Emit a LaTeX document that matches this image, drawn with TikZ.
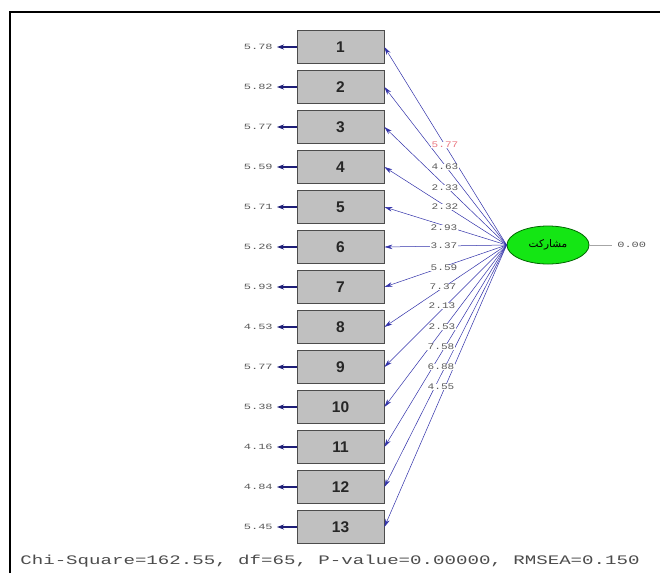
\documentclass[tikz,border=0pt]{standalone}
\usepackage{fontspec}
\setmainfont{Liberation Sans}
\newfontfamily\monof{Liberation Mono}
\newfontfamily\arabicfont[Script=Arabic]{DejaVu Sans}
\TeXXeTstate=1
\usetikzlibrary{arrows.meta,shapes.geometric}
\definecolor{pathblue}{RGB}{50,50,170}
\definecolor{errnavy}{RGB}{30,30,120}
\definecolor{boxgray}{RGB}{192,192,192}
\definecolor{txtgray}{RGB}{90,90,90}
\definecolor{lblred}{RGB}{235,120,130}
\definecolor{ellgreen}{RGB}{20,230,20}
\tikzset{
  ind/.style={draw=black!70, line width=0.8pt, fill=boxgray, minimum width=87pt, minimum height=33pt, inner sep=0pt, font=\fontsize{15.5}{15.5}\selectfont\bfseries, text=black!85},
  errlbl/.style={anchor=east, inner sep=0pt, font=\monof\fontsize{8}{8}\selectfont, text=txtgray, xscale=1.5},
  pathlbl/.style={fill=white, inner sep=0.6pt, font=\monof\fontsize{8.5}{8.5}\selectfont, text=txtgray, xscale=1.3},
  errarrow/.style={-{Stealth[length=7pt,width=5pt]}, line width=1.1pt, draw=errnavy},
  loadarrow/.style={-{Stealth[length=8pt,width=4.5pt]}, line width=0.5pt, draw=pathblue},
}
\begin{document}
\begin{tikzpicture}[x=1pt,y=-1pt]
\useasboundingbox (0,0) rectangle (660,573);
\fill[white] (0,0) rectangle (660,573);
% frame
\draw[line width=1.6pt] (10,573) -- (10,12) -- (660,12);
% latent variable
\node[ellipse, draw=black!60!green, line width=0.8pt, fill=ellgreen, minimum width=82pt, minimum height=38pt, inner sep=0pt] (eta) at (548,245) {\arabicfont\fontsize{10.5}{10.5}\selectfont\beginR مشارکت\endR};
\coordinate (varend) at (612,245);
\draw[gray!70, line width=0.5pt] (eta.east) -- (varend);
\node[errlbl, anchor=west] (var) at (617,245) {0.00};
% indicators
\foreach \i/\e in {1/5.78, 2/5.82, 3/5.77, 4/5.59, 5/5.71, 6/5.26, 7/5.93, 8/4.53, 9/5.77, 10/5.38, 11/4.16, 12/4.84, 13/5.45}{
  \pgfmathsetmacro{\yy}{7+40*\i}
  \node[ind] (x\i) at (340.5,\yy) {\i};
  \coordinate (e\i) at (277,\yy);
  \draw[errarrow] (x\i.west) -- (e\i);
  \node[errlbl] (el\i) at (273,\yy) {\e};
  \draw[loadarrow] (eta.west) -- (x\i.east);
}
% loading labels
\foreach \i/\lam/\lx/\ly in {1/5.77/445/145, 2/4.63/445/167, 3/2.33/445/188, 4/2.32/445/207, 5/2.93/444/228, 6/3.37/444/246, 7/5.59/444/268, 8/7.37/443/287, 9/2.13/442/306, 10/2.53/442/327, 11/7.58/441/347, 12/6.88/441/367, 13/4.55/441/387}{
  \ifnum\i=1
    \node[pathlbl, text=lblred] (l\i) at (\lx,\ly) {\lam};
  \else
    \node[pathlbl] (l\i) at (\lx,\ly) {\lam};
  \fi
}
% fit statistics
\node[font=\monof\fontsize{13}{13}\selectfont, text=black!70, inner sep=0pt, xscale=1.47] (fit) at (330,561) {Chi-Square=162.55, df=65, P-value=0.00000, RMSEA=0.150};
\end{tikzpicture}
\end{document}
